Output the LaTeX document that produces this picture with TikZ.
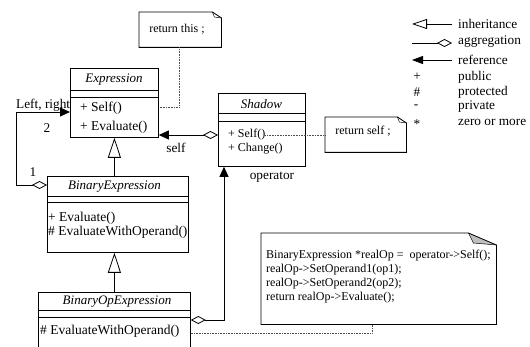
\documentclass[tikz,border=0pt]{standalone}
\usepackage{fontspec}
\setmainfont{Liberation Serif}
\usetikzlibrary{arrows.meta}
\tikzset{
  boxline/.style={line width=0.8pt},
  cls/.style={draw, boxline, anchor=north west, inner sep=0pt},
  ttl/.style={font=\fontsize{13}{15}\selectfont\itshape, inner sep=0pt},
  mth/.style={font=\fontsize{13.5}{15}\selectfont, inner sep=0pt, anchor=west},
  smth/.style={font=\fontsize{12}{14}\selectfont, inner sep=0pt, anchor=west},
  lbl/.style={font=\fontsize{13.3}{15}\selectfont, inner sep=0pt},
  notetxt/.style={font=\fontsize{12}{14}\selectfont, inner sep=0pt, anchor=west},
  notebox/.style={inner sep=0pt, anchor=north west},
  inh/.style={boxline, -{Triangle[open, length=20pt, width=13pt]}},
  aggref/.style={boxline, {Triangle[length=10pt, width=9pt]}-{Diamond[open, length=15pt, width=8pt]}},
  link/.style={densely dotted, line width=0.6pt, black!70},
}
\begin{document}
\begin{tikzpicture}[x=1pt, y=-1pt]
\clip (0,0) rectangle (530,347);
\fill[white] (0,0) rectangle (530,347);

% ---- Expression
\node[cls, minimum width=88pt, minimum height=69pt] (expr) at (70,68) {};
\draw[boxline] (70,90) -- (158,90) (70,97) -- (158,97);
\node[ttl] (exprT) at (114,80) {Expression};
\node[mth] (exprM1) at (80,108) {+ Self()};
\node[mth] (exprM2) at (80,127) {+ Evaluate()};

% ---- Shadow
\node[cls, minimum width=87pt, minimum height=73pt] (shad) at (218,93) {};
\draw[boxline] (218,113) -- (305,113) (218,121) -- (305,121);
\node[ttl] (shadT) at (261.5,104) {Shadow};
\node[smth] (shadM1) at (228,135) {+ Self()};
\node[smth] (shadM2) at (228,149) {+ Change()};

% ---- BinaryExpression
\node[cls, minimum width=141pt, minimum height=76pt] (binx) at (47,176) {};
\draw[boxline] (47,196) -- (188,196) (47,202) -- (188,202);
\node[ttl] (binxT) at (114.5,187) {BinaryExpression};
\node[mth] (binxM1) at (48,218) {+ Evaluate()};
\node[mth] (binxM2) at (48,232) {\# EvaluateWithOperand()};

% ---- BinaryOpExpression
\node[cls, minimum width=152pt, minimum height=80pt] (bop) at (38,292) {};
\draw[boxline] (38,310) -- (190,310) (38,317) -- (190,317);
\node[ttl] (bopT) at (117,302) {BinaryOpExpression};
\node[mth] (bopM1) at (40,331) {\# EvaluateWithOperand()};

% ---- notes
\node[notebox, minimum width=82pt, minimum height=35pt] (n1) at (139,12) {};
\draw[boxline] (n1.north west) -- ([xshift=-9pt]n1.north east) -- ([yshift=-6pt]n1.north east) -- (n1.south east) -- (n1.south west) -- cycle;
\draw[line width=0.5pt] ([xshift=-9pt]n1.north east) -- ([xshift=-7pt,yshift=-5pt]n1.north east) -- ([yshift=-6pt]n1.north east);
\node[font=\fontsize{12}{14}\selectfont, inner sep=0pt] (n1t) at (177,29) {return this ;};

\node[notebox, minimum width=81pt, minimum height=35pt] (n2) at (325,117) {};
\draw[boxline] (n2.north west) -- ([xshift=-9pt]n2.north east) -- ([yshift=-6pt]n2.north east) -- (n2.south east) -- (n2.south west) -- cycle;
\draw[line width=0.5pt] ([xshift=-9pt]n2.north east) -- ([xshift=-7pt,yshift=-5pt]n2.north east) -- ([yshift=-6pt]n2.north east);
\node[font=\fontsize{12}{14}\selectfont, inner sep=0pt] (n2t) at (363,131) {return self ;};

\node[notebox, minimum width=235pt, minimum height=91pt] (n3) at (261,233) {};
\fill[black!25] ([xshift=-28pt]n3.north east) -- ([xshift=-23pt,yshift=-10pt]n3.north east) -- ([yshift=-12pt]n3.north east) -- cycle;
\draw[boxline] (n3.north west) -- ([xshift=-28pt]n3.north east) -- ([yshift=-12pt]n3.north east) -- (n3.south east) -- (n3.south west) -- cycle;
\draw[line width=0.5pt] ([xshift=-28pt]n3.north east) -- ([xshift=-23pt,yshift=-10pt]n3.north east) -- ([yshift=-12pt]n3.north east);
\node[notetxt] (n3a) at (266,256) {BinaryExpression *realOp =~ operator->Self();};
\node[notetxt] (n3b) at (266,270) {realOp->SetOperand1(op1);};
\node[notetxt] (n3c) at (266,284) {realOp->SetOperand2(op2);};
\node[notetxt] (n3d) at (266,298) {return realOp->Evaluate();};

% ---- inheritance connectors
\draw[inh] (binx.north -| expr.south) -- (expr.south);
\draw[inh] (bop.north) -- (bop.north |- binx.south);

% ---- aggregation / reference connectors
\draw[aggref] (expr.east |- shadM1) -- (shad.west |- shadM1);
\coordinate (lrA) at (16,185);
\coordinate (lrB) at (16,112);
\draw[aggref] (expr.west |- lrB) -- (lrB) -- (lrA) -- (binx.west |- lrA);
\coordinate (opA) at (224,320);
\draw[aggref] (shad.south -| opA) -- (opA) -- (bop.east |- opA);

% ---- labels
\node[lbl, anchor=west] (lLR) at (16,105) {Left, right};
\node[lbl] (l2) at (47,128) {2};
\node[lbl] (l1) at (33,172) {1};
\node[lbl] (lself) at (176,148) {self};
\node[lbl] (lop) at (272,177) {operator};

% ---- note links
\coordinate (k1) at (179,107);
\draw[link] (n1.south -| k1) -- (k1) -- (expr.east |- k1);
\draw[link] (shadM1.east) -- (n2.west |- shadM1.east);
\coordinate (k3) at (372,333);
\draw[link] (bop.east |- k3) -- (k3) -- (n3.south -| k3);

% ---- legend
\coordinate (g1a) at (412,24); \coordinate (g1b) at (452,24);
\coordinate (g2a) at (412,43); \coordinate (g2b) at (452,43);
\coordinate (g3a) at (412,60); \coordinate (g3b) at (452,60);
\draw[boxline, -{Triangle[open, length=15pt, width=10pt]}] (g1b) -- (g1a);
\draw[boxline, -{Diamond[open, length=15pt, width=8pt]}] (g2a) -- (g2b);
\draw[boxline, -{Triangle[length=11pt, width=8pt]}] (g3b) -- (g3a);
\node[lbl, anchor=west] (t1) at (458,24) {inheritance};
\node[lbl, anchor=west] (t2) at (458,42) {aggregation};
\node[lbl, anchor=west] (t3) at (458,60) {reference};
\node[lbl, anchor=west] (t4) at (458,77) {public};
\node[lbl, anchor=west] (t5) at (458,92) {protected};
\node[lbl, anchor=west] (t6) at (458,107) {private};
\node[lbl, anchor=west] (t7) at (458,122) {zero or more};
\node[lbl] (s4) at (417,77) {+};
\node[lbl] (s5) at (417,92) {\#};
\node[lbl] (s6) at (416,107) {-};
\node[lbl] (s7) at (417,124) {*};
\end{tikzpicture}
\end{document}
